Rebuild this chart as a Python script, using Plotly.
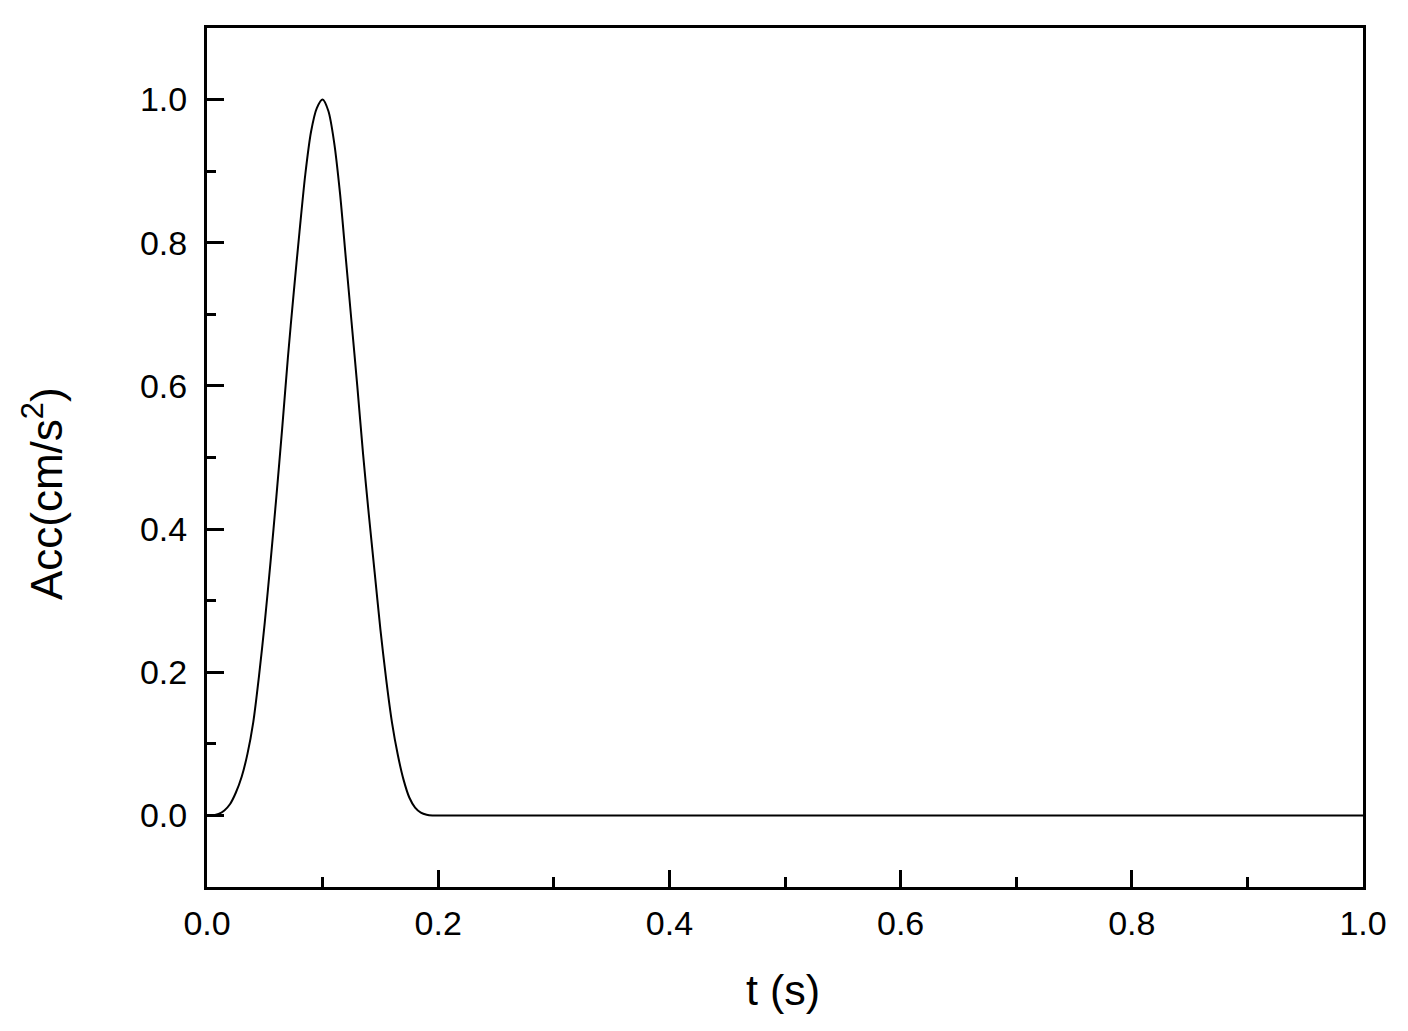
import plotly.graph_objects as go

# ---------------------------
# Data (single acceleration pulse)
# ---------------------------
t_s = [0.000, 0.005, 0.010, 0.015, 0.020, 0.025, 0.030, 0.035, 0.040, 0.045,
       0.050, 0.055, 0.060, 0.065, 0.070, 0.075, 0.080, 0.085, 0.090, 0.095,
       0.100, 0.105, 0.110, 0.115, 0.120, 0.125, 0.130, 0.135, 0.140, 0.145,
       0.150, 0.155, 0.160, 0.165, 0.170, 0.175, 0.180, 0.185, 0.190, 0.195,
       0.200, 1.000]
acc = [0.000, 0.000, 0.002, 0.007, 0.016, 0.032, 0.054, 0.086, 0.130, 0.195,
       0.270, 0.355, 0.445, 0.540, 0.640, 0.730, 0.815, 0.895, 0.955, 0.988,
       1.000, 0.984, 0.940, 0.870, 0.780, 0.690, 0.600, 0.505, 0.420, 0.340,
       0.260, 0.190, 0.130, 0.085, 0.050, 0.025, 0.011, 0.004, 0.001, 0.000,
       0.000, 0.000]

x_title = "t (s)"
y_title = "Acc(cm/s<sup>2</sup>)"

FONT = "Liberation Sans, Arial, sans-serif"

fig = go.Figure()
fig.add_trace(go.Scatter(x=t_s, y=acc, mode="lines",
                         line=dict(color="black", width=2, shape="spline", smoothing=0.8),
                         showlegend=False))

axis_common = dict(showline=True, linecolor="black", linewidth=3, mirror=True,
                   showgrid=False, zeroline=False,
                   ticks="inside", ticklen=17, tickwidth=3, tickcolor="black",
                   tickfont=dict(family=FONT, size=34, color="black"))

fig.update_xaxes(range=[0, 1.0], dtick=0.2, tickformat=".1f", ticklabelstandoff=4,
                 minor=dict(dtick=0.1, ticks="inside", ticklen=10, tickwidth=3, tickcolor="black"),
                 **axis_common)
fig.update_yaxes(range=[-0.1, 1.1], tick0=0, dtick=0.2, tickformat=".1f", ticklabelstandoff=10,
                 minor=dict(tick0=0, dtick=0.1, ticks="inside", ticklen=9, tickwidth=3, tickcolor="black"),
                 **axis_common)

# axis titles as annotations so they sit where the reference has them
fig.add_annotation(text=x_title, xref="paper", yref="paper", x=0.498, y=-0.12,
                   xanchor="center", yanchor="middle", showarrow=False,
                   font=dict(family=FONT, size=43, color="black"))
fig.add_annotation(text=y_title, xref="paper", yref="paper", x=-0.1427, y=0.4575,
                   xanchor="center", yanchor="middle", showarrow=False, textangle=-90,
                   font=dict(family=FONT, size=44, color="black"))

# page body adds an 8px offset, margins compensate for it
fig.update_layout(width=1408, height=1031,
                  margin=dict(l=199, r=53, t=20, b=152),
                  plot_bgcolor="white", paper_bgcolor="white")

fig.write_html("out.html")
